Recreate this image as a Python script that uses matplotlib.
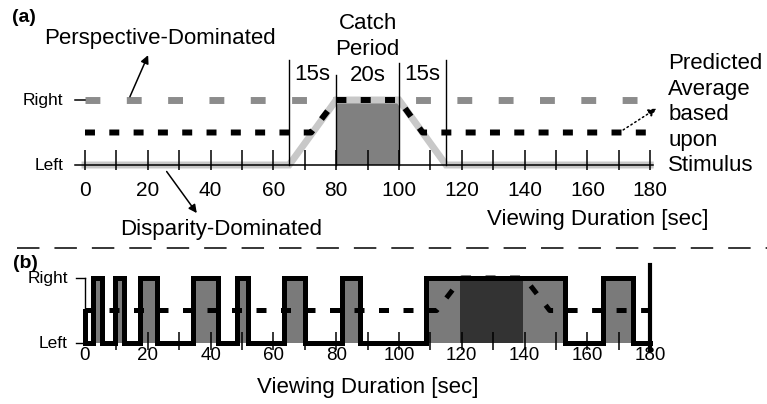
import numpy as np
import matplotlib.pyplot as plt
from matplotlib.lines import Line2D

plt.rcParams['font.family'] = ['Liberation Sans', 'DejaVu Sans']

# ---- panel (a): predicted percepts over one viewing period ----
tick_labels = [0, 20, 40, 60, 80, 100, 120, 140, 160, 180]
tick_marks = [0, 10, 20, 30, 40, 50, 60, 70, 80, 90, 100, 110, 120, 130, 140, 150, 160, 170, 180]

# perspective-dominated percept stays at "Right" for the whole run
persp_t = [0, 180]
persp_y = [1, 1]

# disparity-dominated percept ramps over to "Right" around the catch period
disp_t = [0, 65, 80, 100, 115, 180]
disp_y = [0, 0, 1, 1, 0, 0]

# predicted average based upon the stimulus
avg_t = [0, 72, 80, 100, 107.5, 180]
avg_y = [0.5, 0.5, 1, 1, 0.5, 0.5]

catch_start, catch_end = 80, 100
period_edges = [65, 80, 100, 115]

# ---- panel (b): example observer trace ----
persp_on = [2.5, 9.5, 17.5, 34.5, 48.5, 63.5, 82, 108.5, 165]
persp_off = [5.5, 12.5, 23, 42.5, 52, 70, 87.5, 153, 174.5]
trace_start = 0.5
catch_b = (119.5, 139.5)

avg_b_t = [0, 112, 120, 140, 148, 180]
avg_b_y = [0.5, 0.5, 1, 1, 0.5, 0.5]

W, H = 767, 404
X0, SX, SY = 85, 3.14, 65  # pixel origin of t=0 and pixel scales

fig = plt.figure(figsize=(W / 100, H / 100), dpi=100)

ax_a = fig.add_axes([0, 1 - 247 / H, 1, 247 / H])
ax_a.set_xlim(-X0 / SX, (W - X0) / SX)
ax_a.set_ylim((165 - 247) / SY, 165 / SY)
ax_a.axis('off')

ax_b = fig.add_axes([0, 0, 1, 157 / H])
ax_b.set_xlim(-X0 / SX, (W - X0) / SX)
ax_b.set_ylim((343 - 404) / SY, (343 - 247) / SY)
ax_b.axis('off')

BIG = 16

# --- panel (a) ---
ax_a.plot(persp_t, persp_y, color='#8c8c8c', lw=5, linestyle=(0, (2.14, 3.81)),
          solid_capstyle='butt', zorder=1)
ax_a.fill_between([catch_start, catch_end], 0, 1, color='#808080', lw=0, zorder=2)
ax_a.plot(disp_t, disp_y, color='#c8c8c8', lw=5, solid_joinstyle='miter', zorder=3)

ax_a.plot([-3.2, 181], [0, 0], color='black', lw=1.1, zorder=4)
ax_a.plot([-3.2, 0], [1, 1], color='black', lw=1.1, zorder=4)
ax_a.vlines(tick_marks, -0.08, 0.23, color='black', lw=1.1, zorder=4)
edge_tops = {65: 1.615, 80: 1.385, 100: 1.57, 115: 1.615}
for e in period_edges:
    ax_a.plot([e, e], [0, edge_tops[e]], color='black', lw=1.0, zorder=4)

ax_a.plot(avg_t, avg_y, color='black', lw=4.3, linestyle=(0, (1.67, 2.4)), zorder=5)

for t in tick_labels:
    ax_a.text(t, -0.385, str(t), ha='center', va='center', fontsize=15)
ax_a.text(-7, 1, 'Right', ha='right', va='center', fontsize=12.5)
ax_a.text(-7, 0, 'Left', ha='right', va='center', fontsize=12.5)

ax_a.text(90, 1.78, 'Catch\nPeriod\n20s', ha='center', va='center',
          fontsize=BIG, linespacing=1.3)
ax_a.text(72.5, 1.385, '15s', ha='center', va='center', fontsize=BIG)
ax_a.text(107.5, 1.385, '15s', ha='center', va='center', fontsize=BIG)

ax_a.text(23.9, 1.95, 'Perspective-Dominated', ha='center', va='center', fontsize=BIG)
ax_a.annotate('', xy=(20.1, 1.69), xytext=(14.3, 1.05),
              arrowprops=dict(arrowstyle='-|>', color='black', lw=1.1,
                              mutation_scale=12, shrinkA=0, shrinkB=0))

ax_a.text(43.3, -1.0, 'Disparity-Dominated', ha='center', va='center', fontsize=BIG)
ax_a.annotate('', xy=(35.6, -0.74), xytext=(26, -0.1),
              arrowprops=dict(arrowstyle='-|>', color='black', lw=1.1,
                              mutation_scale=12, shrinkA=0, shrinkB=0))

ax_a.text(163.2, -0.846, 'Viewing Duration [sec]', ha='center', va='center', fontsize=BIG)

ax_a.text(185.7, 0.77, 'Predicted\nAverage\nbased\nupon\nStimulus', ha='left',
          va='center', fontsize=BIG, linespacing=1.28)
ax_a.annotate('', xy=(182, 0.87), xytext=(171.4, 0.54),
              arrowprops=dict(arrowstyle='-|>', color='black', lw=1.1,
                              linestyle=(0, (1, 2)), mutation_scale=12,
                              shrinkA=0, shrinkB=0))

# --- separator between panels ---
fig.add_artist(Line2D([17 / W, 1], [1 - 248 / H, 1 - 248 / H], color='black',
                      lw=1.1, linestyle=(0, (14.7, 9.8)), transform=fig.transFigure))

fig.text(12 / W, 1 - 18 / H, '(a)', ha='left', va='center', fontsize=14, fontweight='bold')
fig.text(13 / W, 1 - 263 / H, '(b)', ha='left', va='center', fontsize=14, fontweight='bold')

# --- panel (b) ---
for on, off in zip(persp_on, persp_off):
    ax_b.fill_between([on, off], 0, 1, color='#7a7a7a', lw=0, zorder=1)
ax_b.fill_between(list(catch_b), 0, 1, color='#333333', lw=0, zorder=2)

ax_b.plot(avg_b_t, avg_b_y, color='black', lw=3.6, linestyle=(0, (2.0, 2.9)), zorder=3)

trace_t = [0, 0]
trace_y = [trace_start, 0]
for on, off in zip(persp_on, persp_off):
    trace_t += [on, on, off, off]
    trace_y += [0, 1, 1, 0]
trace_t.append(180)
trace_y.append(0)
ax_b.plot(trace_t, trace_y, color='black', lw=3.6, solid_joinstyle='miter', zorder=4)

ax_b.plot([0, 0], [0, 1], color='black', lw=1.0, zorder=4)
ax_b.plot([-2.8, 0], [1, 1], color='black', lw=1.0, zorder=4)
ax_b.plot([-2.8, 0], [0, 0], color='black', lw=1.0, zorder=4)
ax_b.vlines(tick_marks[1:-1], -0.11, 0.17, color='black', lw=1.1, zorder=5)
ax_b.plot([180, 180], [-0.11, 1.2], color='black', lw=3, zorder=5)

for t in tick_labels:
    ax_b.text(t, -0.185, str(t), ha='center', va='center', fontsize=13.5)
ax_b.text(-5.3, 1, 'Right', ha='right', va='center', fontsize=12.5)
ax_b.text(-5.6, 0, 'Left', ha='right', va='center', fontsize=12.5)
ax_b.text(90.1, -0.677, 'Viewing Duration [sec]', ha='center', va='center', fontsize=BIG)

fig.savefig('out.png', dpi=100)
